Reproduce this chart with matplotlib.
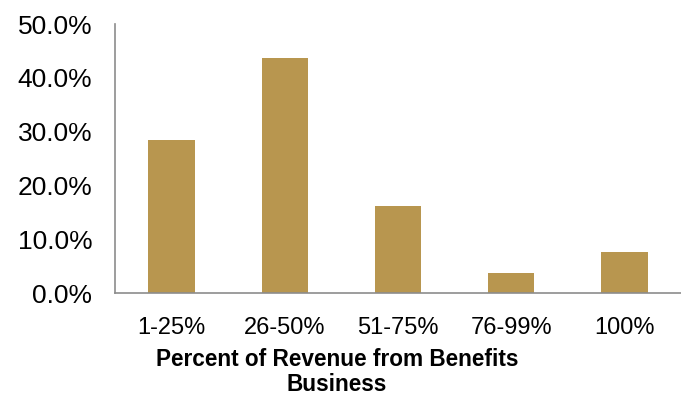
import matplotlib.pyplot as plt
from matplotlib.ticker import FuncFormatter

plt.rcParams['font.family'] = ['Liberation Sans', 'DejaVu Sans']

# Share of respondents by percent of revenue from benefits business
categories = ['1-25%', '26-50%', '51-75%', '76-99%', '100%']
shares = [28.5, 43.7, 16.1, 3.8, 7.6]

fig = plt.figure(figsize=(6.81, 3.96), dpi=100)
ax = fig.add_axes([0.169, 0.26, 0.831, 0.679])

ax.bar(range(len(categories)), shares, width=0.41, color='#B8964F')

ax.set_xlim(-0.5, len(categories) - 0.5)
ax.set_ylim(0, 50)
ax.set_yticks(range(0, 51, 10))
ax.yaxis.set_major_formatter(FuncFormatter(lambda v, _: f'{v:.1f}%'))
ax.set_xticks(range(len(categories)))
ax.set_xticklabels(categories)
ax.tick_params(axis='both', length=0, colors='black')
ax.tick_params(axis='y', pad=16.5, labelsize=19)
ax.tick_params(axis='x', pad=17, labelsize=17)

for side in ('top', 'right'):
    ax.spines[side].set_visible(False)
for side in ('left', 'bottom'):
    ax.spines[side].set_color('#8C8C8C')
    ax.spines[side].set_linewidth(1.2)

fig.text(0.495, 0.0, 'Percent of Revenue from Benefits\nBusiness',
         ha='center', va='bottom', fontsize=16.3, fontweight='bold',
         linespacing=1.1)

fig.savefig('out.png', dpi=100)
